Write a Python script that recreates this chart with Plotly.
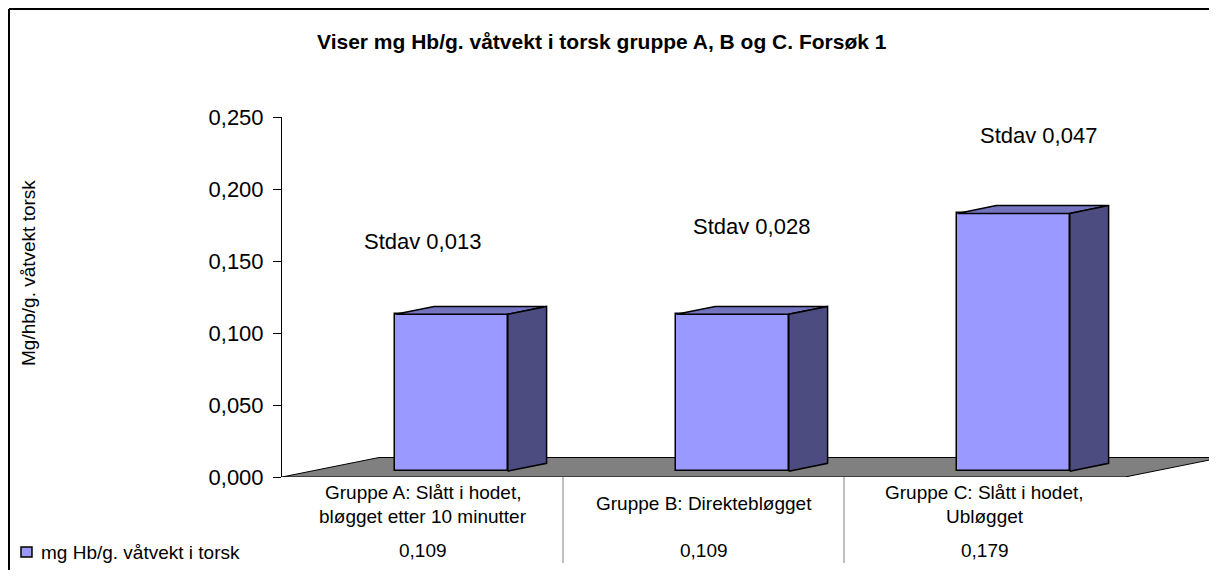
import plotly.graph_objects as go

# data
categories = ["Gruppe A: Slått i hodet,<br>bløgget etter 10 minutter",
              "Gruppe B: Direktebløgget",
              "Gruppe C: Slått i hodet,<br>Ubløgget"]
values = [0.109, 0.109, 0.179]
stdevs = [0.013, 0.028, 0.047]
series_name = "mg Hb/g. våtvekt i torsk"
y_ticks = [0.0, 0.05, 0.10, 0.15, 0.20, 0.25]

# layout geometry (pixels); the page body adds an 8px margin
OFF = 8
W, H = 1217 - 2 * OFF, 586 - 24
L = 282 - OFF
T = 117 - OFF
B = H - (477 - OFF)
PW, PH = W - L, H - T - B
CAT_PX = 281
X_MAX = PW / CAT_PX
Y_MAX = 0.25
DX = 97 / CAT_PX            # floor depth offset in x units
DY = 19.5 / PH * Y_MAX      # floor depth offset in y units
D0, D1 = 0.3, 0.7           # bar front/back depth fraction
BAR_W = 0.4

FRONT, TOP, SIDE = "#9999FF", "#7373BF", "#4C4C80"
FONT = "Arial, Liberation Sans, sans-serif"


def px(xp):
    return (xp - OFF - L) / PW


def py(yp):
    return (H - B - (yp - OFF)) / PH


def dec(v):
    return f"{v:.3f}".replace(".", ",")


def label(text, x, y, size, xref="paper", **kw):
    return dict(text=text, xref=xref, yref="paper", x=x, y=y, showarrow=False,
                xanchor=kw.pop("xanchor", "center"), yanchor="middle",
                font=dict(size=size, color="black", family=FONT), **kw)


fig = go.Figure()

# front faces
centers = [i + 0.5 for i in range(len(values))]
fig.add_trace(go.Bar(
    x=[c + D0 * DX for c in centers], y=values, base=[D0 * DY] * len(values),
    width=BAR_W, marker=dict(color=FRONT, line=dict(color="black", width=1.5)),
    showlegend=False, hoverinfo="skip"))

# top and side faces
dd, ddy = (D1 - D0) * DX, (D1 - D0) * DY
for c, v in zip(centers, values):
    xl = c - BAR_W / 2 + D0 * DX
    xr = xl + BAR_W
    b0 = D0 * DY
    t0 = v + b0
    fig.add_trace(go.Scatter(
        x=[xl, xr, xr + dd, xl + dd, xl], y=[t0, t0, t0 + ddy, t0 + ddy, t0],
        mode="lines", fill="toself", fillcolor=TOP, line=dict(color="black", width=1.5),
        showlegend=False, hoverinfo="skip"))
    fig.add_trace(go.Scatter(
        x=[xr, xr, xr + dd, xr + dd, xr], y=[b0, t0, t0 + ddy, b0 + ddy, b0],
        mode="lines", fill="toself", fillcolor=SIDE, line=dict(color="black", width=1.5),
        showlegend=False, hoverinfo="skip"))

n = len(values)
shapes = [
    # floor
    dict(type="path", xref="x", yref="y", layer="below",
         path=f"M 0,0 L {n},0 L {n + DX},{DY} L {DX},{DY} Z",
         fillcolor="#808080", line=dict(color="black", width=1)),
    # outer border (top and left)
    dict(type="line", xref="paper", yref="paper", x0=px(OFF + 1), x1=px(1230), y0=py(OFF + 1), y1=py(OFF + 1),
         line=dict(color="black", width=2)),
    dict(type="line", xref="paper", yref="paper", x0=px(OFF + 1), x1=px(OFF + 1), y0=py(OFF + 1), y1=py(600),
         line=dict(color="black", width=2)),
    # legend key
    dict(type="rect", xref="paper", yref="paper", x0=px(21), x1=px(32), y0=py(557), y1=py(547),
         fillcolor=FRONT, line=dict(color="black", width=1.5)),
]
for i in range(1, n):
    shapes.append(dict(type="line", xref="x", yref="paper", x0=i, x1=i, y0=py(477), y1=py(563),
                       line=dict(color="#808080", width=1)))

annotations = [
    label("<b>Viser mg Hb/g. våtvekt i torsk gruppe A, B og C. Forsøk 1</b>", px(602), py(41), 21),
    label("Mg/hb/g. våtvekt torsk", px(28), py(273), 19, textangle=-90),
    label(series_name, px(39), py(552), 19, xanchor="left"),
]

# data table
for c, cat, v in zip(centers, categories, values):
    lines = cat.split("<br>")
    ys = [503] if len(lines) == 1 else [492, 516]
    for line, yp in zip(lines, ys):
        annotations.append(label(line, c, py(yp), 19, xref="x"))
    annotations.append(label(dec(v), c, py(550), 19, xref="x"))

# stdev labels
stdev_pos = [(422, 241), (751, 226), (1038, 135)]
for s, (xp, yp) in zip(stdevs, stdev_pos):
    annotations.append(label(f"Stdav {dec(s)}", px(xp), py(yp), 22))

fig.update_layout(
    width=W, height=H, autosize=False,
    margin=dict(l=L, r=0, t=T, b=B, pad=0),
    paper_bgcolor="white", plot_bgcolor="white",
    separators=",.",
    showlegend=False,
    xaxis=dict(range=[0, X_MAX], visible=False, fixedrange=True),
    yaxis=dict(range=[0, Y_MAX], tickvals=y_ticks, tickformat=".3f",
               showline=True, linecolor="black", linewidth=1,
               ticks="outside", ticklen=8, tickcolor="black", ticklabelstandoff=5,
               showgrid=False, zeroline=False,
               tickfont=dict(size=22, color="black", family=FONT)),
    shapes=shapes,
    annotations=annotations,
    bargap=0,
)

fig.write_html("out.html")
